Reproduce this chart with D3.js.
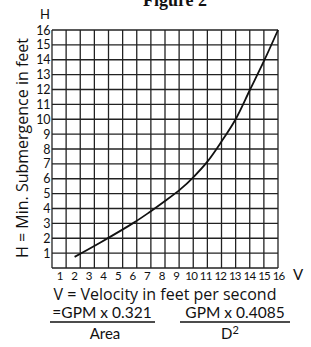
<!DOCTYPE html>
<html>
<head>
<meta charset="utf-8">
<script src="https://cdn.jsdelivr.net/npm/d3@7"></script>
<style>
  body { margin: 0; background: #fff; }
  text { font-family: Lato, "Open Sans", sans-serif; fill: #111; }
</style>
</head>
<body>
<div id="chart"></div>
<script>
// values
var velocity = [1.6, 3.4, 5.8, 6.9, 8.0, 9.1, 10.0, 11.0, 12.0, 13.0, 14.0, 15.0, 16.0];
var head = [0.75, 1.7, 3.05, 3.75, 4.5, 5.3, 6.1, 7.15, 8.5, 10.0, 11.95, 13.9, 16.0];
var xTicks = [1, 2, 3, 4, 5, 6, 7, 8, 9, 10, 11, 12, 13, 14, 15, 16];
var yTicks = [1, 2, 3, 4, 5, 6, 7, 8, 9, 10, 11, 12, 13, 14, 15, 16];

var svgWidth = 311;
var svgHeight = 347;

var svg = d3.select("#chart")
  .append("svg")
  .attr("width", svgWidth)
  .attr("height", svgHeight);

var x = d3.scaleLinear().domain([0, 16]).range([52, 278]);
var y = d3.scaleLinear().domain([0, 16]).range([268, 30]);

// title, cut off at the top of the picture
svg.append("text")
  .attr("x", 175)
  .attr("y", 6)
  .attr("text-anchor", "middle")
  .style("font-family", "'Liberation Serif', serif")
  .style("font-weight", "bold")
  .style("font-size", "18px")
  .text("Figure 2");

// grid
var grid = svg.append("g");
grid.selectAll("line.v")
  .data(d3.range(0, 17))
  .enter().append("line")
    .attr("x1", function(d) { return x(d); })
    .attr("x2", function(d) { return x(d); })
    .attr("y1", y(0))
    .attr("y2", y(16))
    .attr("stroke", "#222")
    .attr("stroke-width", 1.3);
grid.selectAll("line.h")
  .data(d3.range(0, 17))
  .enter().append("line")
    .attr("y1", function(d) { return y(d); })
    .attr("y2", function(d) { return y(d); })
    .attr("x1", x(0))
    .attr("x2", x(16))
    .attr("stroke", "#222")
    .attr("stroke-width", 1.3);

// y tick labels
svg.append("g").selectAll("text")
  .data(yTicks)
  .enter().append("text")
    .attr("x", 50)
    .attr("y", function(d) { return y(d) + 4.5; })
    .attr("text-anchor", "end")
    .style("font-size", "12.5px")
    .style("letter-spacing", "-0.4px")
    .text(function(d) { return d; });

// x tick labels (slightly shifted, like the scanned figure)
svg.append("g").selectAll("text")
  .data(xTicks)
  .enter().append("text")
    .attr("x", function(d) { return x(d) - 3 + (d - 8) * 0.45; })
    .attr("y", 280)
    .attr("text-anchor", "middle")
    .style("font-size", "11.5px")
    .style("letter-spacing", function(d) { return d >= 10 ? "-0.8px" : null; })
    .text(function(d) { return d; });

// axis letters
svg.append("text")
  .attr("x", 45)
  .attr("y", 19)
  .attr("text-anchor", "middle")
  .style("font-size", "13px")
  .text("H");
svg.append("text")
  .attr("x", 298)
  .attr("y", 280)
  .attr("text-anchor", "middle")
  .style("font-size", "15px")
  .text("V");

// y axis title
svg.append("text")
  .attr("transform", "translate(28," + (y(8) - 1) + ") rotate(-90)")
  .attr("text-anchor", "middle")
  .style("font-family", "'Open Sans', sans-serif")
  .style("font-size", "16px")
  .text("H = Min. Submergence in feet");

// curve
var pts = velocity.map(function(v, i) { return [v, head[i]]; });
var line = d3.line()
  .x(function(d) { return x(d[0]); })
  .y(function(d) { return y(d[1]); })
  .curve(d3.curveCatmullRom);
svg.append("path")
  .datum(pts)
  .attr("d", line)
  .attr("fill", "none")
  .attr("stroke", "#111")
  .attr("stroke-width", 1.8);

// formulas below
svg.append("text")
  .attr("x", 165)
  .attr("y", 299.5)
  .attr("text-anchor", "middle")
  .style("font-family", "'Open Sans', sans-serif")
  .style("font-size", "16px")
  .text("V = Velocity in feet per second");

svg.append("text")
  .attr("x", 102)
  .attr("y", 318)
  .attr("text-anchor", "middle")
  .style("font-size", "15.5px")
  .text("=GPM x 0.321");
svg.append("line")
  .attr("x1", 50).attr("x2", 155)
  .attr("y1", 322).attr("y2", 322)
  .attr("stroke", "#111").attr("stroke-width", 1.3);
svg.append("text")
  .attr("x", 105)
  .attr("y", 339)
  .attr("text-anchor", "middle")
  .style("font-size", "15px")
  .text("Area");

svg.append("text")
  .attr("x", 235)
  .attr("y", 318)
  .attr("text-anchor", "middle")
  .style("font-size", "15.5px")
  .text("GPM x 0.4085");
svg.append("line")
  .attr("x1", 180).attr("x2", 290)
  .attr("y1", 322).attr("y2", 322)
  .attr("stroke", "#111").attr("stroke-width", 1.3);
var d2 = svg.append("text")
  .attr("x", 230)
  .attr("y", 339)
  .attr("text-anchor", "middle")
  .style("font-size", "15px");
d2.append("tspan").text("D");
d2.append("tspan").attr("dy", -5).style("font-size", "11px").text("2");
</script>
</body>
</html>
